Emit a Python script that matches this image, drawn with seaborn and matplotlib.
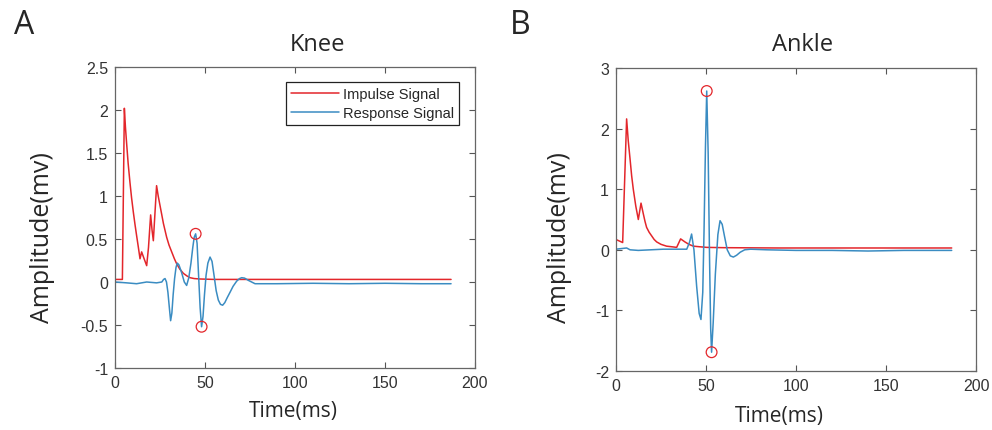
import numpy as np
import matplotlib
matplotlib.use("Agg")
import matplotlib.pyplot as plt
import seaborn as sns

# Knee (panel A)
knee_imp_t = [0, 4.1, 5.2, 5.8, 6.5, 7.3, 8.3, 9.2, 10.2, 11.1, 12.0, 13.0, 13.9, 14.8, 16.0, 17.6, 18.6,
              19.8, 20.6, 21.3, 22.2, 23.1, 24.0, 25.0, 26.0, 26.9, 28.7, 30.0, 31.5, 33.0, 34.3, 36.0, 38.0,
              40.0, 41.7, 44.0, 47.2, 55, 80, 120, 160, 186.7]
knee_imp_v = [0.03, 0.03, 2.02, 1.8, 1.6, 1.38, 1.16, 0.98, 0.81, 0.67, 0.54, 0.4, 0.27, 0.35, 0.28, 0.19, 0.4,
              0.78, 0.6, 0.48, 0.8, 1.12, 1.0, 0.89, 0.78, 0.68, 0.52, 0.43, 0.35, 0.27, 0.21, 0.15, 0.1,
              0.07, 0.05, 0.04, 0.035, 0.03, 0.03, 0.03, 0.03, 0.03]

knee_resp_t = [0, 6.5, 12.0, 17.6, 23.1, 26.0, 27.0, 27.8, 28.6, 29.4, 30.2, 30.9, 31.6, 32.3, 33.1, 33.9,
               34.6, 35.5, 37.0, 38.5, 39.8, 41.0, 42.2, 43.2, 44.0, 44.8, 45.6, 46.5, 47.3, 48.1, 48.9, 49.7,
               50.6, 51.6, 52.8, 53.9, 55.0, 56.2, 57.4, 58.6, 59.8, 61.0, 62.4, 63.9, 65.6, 67.6, 69.2, 70.4,
               72.0, 74.0, 77.8, 90, 110, 130, 150, 170, 186.7]
knee_resp_v = [0.0, -0.01, -0.02, 0.0, -0.01, 0.0, 0.03, 0.04, 0.0, -0.12, -0.3, -0.45, -0.36, -0.15, 0.04,
               0.17, 0.22, 0.2, 0.11, 0.0, -0.04, 0.05, 0.22, 0.4, 0.52, 0.56, 0.45, 0.05, -0.3, -0.52, -0.4,
               -0.15, 0.08, 0.22, 0.29, 0.24, 0.08, -0.1, -0.21, -0.26, -0.27, -0.24, -0.18, -0.12, -0.05, 0.01,
               0.04, 0.05, 0.045, 0.02, -0.02, -0.02, -0.015, -0.02, -0.015, -0.02, -0.02]
knee_peaks_t = [44.8, 48.1]
knee_peaks_v = [0.56, -0.52]

# Ankle (panel B)
ankle_imp_t = [0, 3.7, 5.9, 6.8, 7.8, 8.7, 9.6, 11.0, 12.4, 13.9, 15.2, 16.1, 17.0, 18.4, 19.8, 21.2, 22.6,
               25.0, 28.1, 31.0, 33.7, 35.9, 38.3, 40.5, 43.0, 46.5, 50.4, 60, 90, 130, 186.5]
ankle_imp_v = [0.17, 0.12, 2.16, 1.8, 1.5, 1.22, 1.0, 0.72, 0.5, 0.77, 0.59, 0.47, 0.37, 0.29, 0.23, 0.17, 0.13,
               0.09, 0.06, 0.05, 0.04, 0.18, 0.13, 0.09, 0.06, 0.05, 0.04, 0.035, 0.03, 0.03, 0.03]

ankle_resp_t = [0, 5.9, 7.8, 12.4, 26.3, 39.3, 40.8, 42.0, 43.3, 44.8, 46.2, 47.2, 48.2, 48.9, 49.7, 50.4,
                51.2, 52.0, 52.6, 53.1, 54.0, 55.2, 56.6, 57.8, 59.0, 60.3, 61.8, 63.5, 65.2, 67.0, 69.0, 71.5,
                74.8, 83.7, 100, 120, 140, 160, 186.5]
ankle_resp_v = [0.01, 0.03, 0.0, -0.01, 0.01, 0.01, 0.12, 0.26, 0.0, -0.6, -1.05, -1.15, -0.7, 0.3, 1.7, 2.62,
                1.6, -0.2, -1.3, -1.69, -1.2, -0.4, 0.25, 0.48, 0.42, 0.22, 0.0, -0.1, -0.12, -0.09, -0.04, 0.0,
                0.01, 0.0, -0.01, -0.01, -0.02, -0.01, -0.01]
ankle_peaks_t = [50.4, 53.1]
ankle_peaks_v = [2.62, -1.69]

RED = "#e3262b"
BLUE = "#3a8cc2"

sns.set_style("white")
plt.rcParams['font.family'] = ['Liberation Sans', 'DejaVu Sans']

fig = plt.figure(figsize=(9.92, 4.31), dpi=100)
ax1 = fig.add_axes([115 / 992, 1 - 369 / 431, 360 / 992, 301 / 431])
ax2 = fig.add_axes([616 / 992, 1 - 372 / 431, 360 / 992, 303 / 431])


def draw_panel(ax, imp_t, imp_v, resp_t, resp_v, pk_t, pk_v, ylim, yticks, yticklabels):
    sns.lineplot(x=imp_t, y=imp_v, ax=ax, color=RED, lw=1.1, estimator=None, sort=False, label="Impulse Signal")
    sns.lineplot(x=resp_t, y=resp_v, ax=ax, color=BLUE, lw=1.1, estimator=None, sort=False, label="Response Signal")
    sns.scatterplot(x=pk_t, y=pk_v, ax=ax, marker="o", s=60, facecolor="none", edgecolor=RED, linewidth=0.9,
                    zorder=5)
    ax.set_xlim(0, 200)
    ax.set_ylim(*ylim)
    ax.set_xticks([0, 50, 100, 150, 200])
    ax.set_xticklabels(["0", "50", "100", "150", "200"])
    ax.set_yticks(yticks)
    ax.set_yticklabels(yticklabels)
    ax.tick_params(direction="in", length=4, width=0.8, colors="#555555", labelcolor="#333333",
                   labelsize=11.5, top=True, right=True, bottom=True, left=True, pad=5)
    for s in ax.spines.values():
        s.set_visible(True)
        s.set_color("#666666")
        s.set_linewidth(0.9)
    ax.grid(False)


draw_panel(ax1, knee_imp_t, knee_imp_v, knee_resp_t, knee_resp_v, knee_peaks_t, knee_peaks_v,
           (-1, 2.5), [-1, -0.5, 0, 0.5, 1, 1.5, 2, 2.5], ["-1", "-0.5", "0", "0.5", "1", "1.5", "2", "2.5"])
draw_panel(ax2, ankle_imp_t, ankle_imp_v, ankle_resp_t, ankle_resp_v, ankle_peaks_t, ankle_peaks_v,
           (-2, 3), [-2, -1, 0, 1, 2, 3], ["-2", "-1", "0", "1", "2", "3"])

leg = ax1.legend(loc="upper right", bbox_to_anchor=(0.956, 0.950), borderaxespad=0, fontsize=10.5,
                 frameon=True, fancybox=False, edgecolor="#222222", framealpha=1, handlelength=3.3,
                 handletextpad=0.25, labelspacing=0.35, borderpad=0.35)
leg.get_frame().set_linewidth(0.9)
ax2.legend().remove()

label_font = ['Open Sans', 'DejaVu Sans']
ax1.set_xlabel("Time(ms)", family=label_font, fontsize=15, va="center")
ax1.xaxis.set_label_coords((293 - 115) / 360, (369 - 412) / 301)
ax2.set_xlabel("Time(ms)", family=label_font, fontsize=15, va="center")
ax2.xaxis.set_label_coords((779 - 616) / 360, (372 - 417) / 303)
ax1.set_ylabel("Amplitude(mv)", family=label_font, fontsize=18, va="center")
ax1.yaxis.set_label_coords((43 - 115) / 360, (369 - 238) / 301)
ax2.set_ylabel("Amplitude(mv)", family=label_font, fontsize=18, va="center")
ax2.yaxis.set_label_coords((560 - 616) / 360, (372 - 238) / 303)

fig.text(317 / 992, 1 - 45 / 431, "Knee", family=label_font, fontsize=17, ha="center", va="center")
fig.text(803 / 992, 1 - 45 / 431, "Ankle", family=label_font, fontsize=17, ha="center", va="center")
fig.text(24 / 992, 1 - 25 / 431, "A", family=label_font, fontsize=23, ha="center", va="center")
fig.text(520 / 992, 1 - 25 / 431, "B", family=label_font, fontsize=23, ha="center", va="center")

fig.savefig("out.png", dpi=100)
